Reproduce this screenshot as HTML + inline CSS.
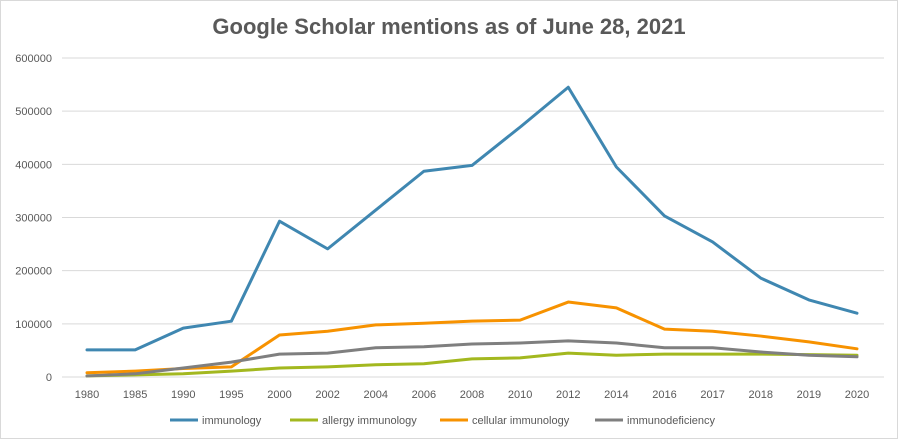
<!DOCTYPE html>
<html><head><meta charset="utf-8"><style>
body{margin:0;background:#fff;}
svg{display:block;font-family:"Liberation Sans",sans-serif;}
</style></head><body>
<svg id="chart" width="898" height="439">
<rect x="0.5" y="0.5" width="897" height="438" fill="#fff" stroke="#d9d9d9"/>
<text x="449" y="34" text-anchor="middle" font-size="22" font-weight="bold" fill="#595959">Google Scholar mentions as of June 28, 2021</text>
<g id="grid"></g><g id="xlabels"></g><g id="series"></g><g id="legend"></g>
</svg>
<script>
const categories=["1980","1985","1990","1995","2000","2002","2004","2006","2008","2010","2012","2014","2016","2017","2018","2019","2020"];
const immunology=[51000,51000,92000,105000,293000,241000,314000,387000,398000,470000,545000,395000,303000,254000,186000,145000,120000];
const allergy=[2000,4000,6000,11000,17000,19000,23000,25000,34000,36000,45000,41000,43000,43000,43000,42000,41000];
const cellular=[8000,11000,16000,19000,79000,86000,98000,101000,105000,107000,141000,130000,90000,86000,77000,66000,53000];
const immunodef=[2000,6000,17000,28000,43000,45000,55000,57000,62000,64000,68000,64000,55000,55000,47000,41000,38000];
const yTicks=[0,100000,200000,300000,400000,500000,600000];
const seriesNames=["immunology","allergy immunology","cellular immunology","immunodeficiency"];
const seriesColors=["#3f87b1","#a3b81f","#f79200","#7f7f7f"];
const seriesData=[immunology,allergy,cellular,immunodef];
const NS="http://www.w3.org/2000/svg";
const x=i=>87+i*(857-87)/(categories.length-1);
const y=v=>377-v*(319/600000);
function mk(t,a,p){const e=document.createElementNS(NS,t);for(const k in a)e.setAttribute(k,a[k]);p.appendChild(e);return e;}
const grid=document.getElementById('grid');
yTicks.forEach(v=>{
  const l=mk('line',{x1:62,x2:884,y1:y(v),y2:y(v),stroke:'#d9d9d9','stroke-width':1},grid);
  
  
  const t=mk('text',{x:52,y:y(v)+4,'text-anchor':'end','font-size':11,fill:'#595959'},grid);
  t.textContent=v;
  
  
});
const xl=document.getElementById('xlabels');
categories.forEach((c,i)=>{
  const t=mk('text',{x:x(i),y:398,'text-anchor':'middle','font-size':11,fill:'#595959'},xl);
  t.textContent=c;
  
  
});
const sg=document.getElementById('series');
seriesData.forEach((d,s)=>{
  const p=mk('polyline',{points:d.map((v,i)=>x(i)+','+y(v)).join(' '),fill:'none',stroke:seriesColors[s],'stroke-width':3,'stroke-linejoin':'round','stroke-linecap':'round'},sg);
  
  
});
const lg=document.getElementById('legend');
const lx=[170,290,440,595];
seriesNames.forEach((n,s)=>{
  const l=mk('line',{x1:lx[s],x2:lx[s]+28,y1:420,y2:420,stroke:seriesColors[s],'stroke-width':3},lg);
  
  
  const t=mk('text',{x:lx[s]+32,y:424,'font-size':11,fill:'#595959'},lg);
  t.textContent=n;
  
  
});
</script>
</body></html>
